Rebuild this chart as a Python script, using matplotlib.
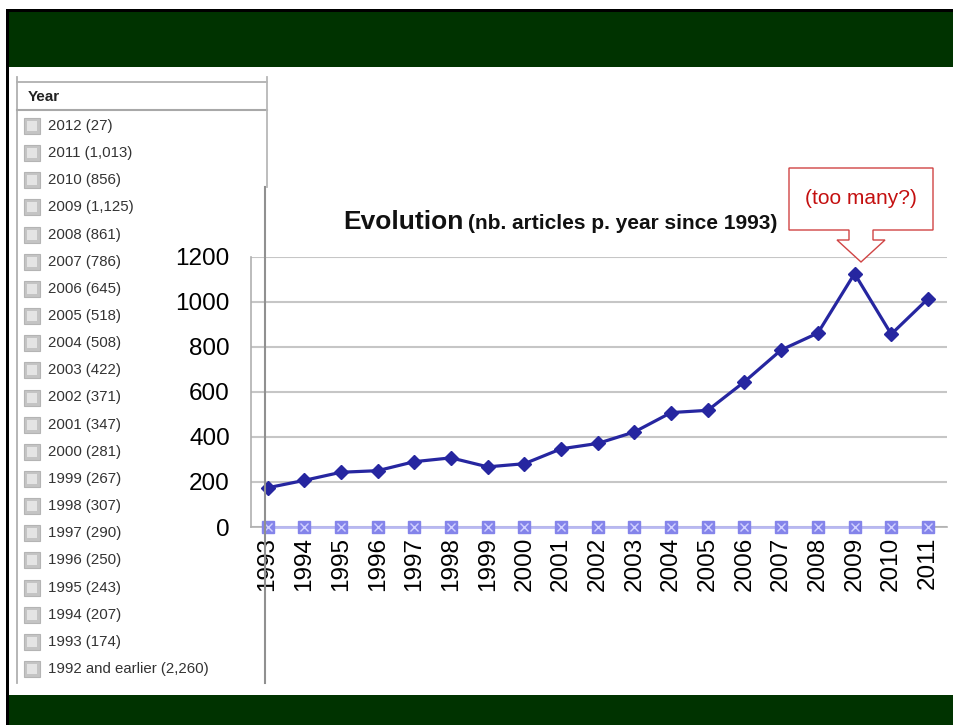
import matplotlib.pyplot as plt
from matplotlib.patches import Rectangle, Polygon
from matplotlib.lines import Line2D

plt.rcParams['font.family'] = ['Liberation Sans', 'DejaVu Sans']

# chart data
years = ['1993', '1994', '1995', '1996', '1997', '1998', '1999', '2000', '2001', '2002',
         '2003', '2004', '2005', '2006', '2007', '2008', '2009', '2010', '2011']
articles = [174, 207, 243, 250, 290, 307, 267, 281, 347, 371,
            422, 508, 518, 645, 786, 861, 1125, 856, 1013]
baseline = [0, 0, 0, 0, 0, 0, 0, 0, 0, 0, 0, 0, 0, 0, 0, 0, 0, 0, 0]
yticks = [0, 200, 400, 600, 800, 1000, 1200]

# facet list on the left
facet_years = ['2012', '2011', '2010', '2009', '2008', '2007', '2006', '2005', '2004', '2003',
               '2002', '2001', '2000', '1999', '1998', '1997', '1996', '1995', '1994', '1993',
               '1992 and earlier']
facet_counts = ['27', '1,013', '856', '1,125', '861', '786', '645', '518', '508', '422',
                '371', '347', '281', '267', '307', '290', '250', '243', '207', '174',
                '2,260']

W, H = 954, 725


def fx(x):
    return x / W


def fy(y):
    return 1 - y / H


def rect(x0, y0, x1, y1, **kw):
    # pixel box (top-left origin) -> figure rectangle
    return Rectangle((fx(x0), fy(y1)), (x1 - x0) / W, (y1 - y0) / H,
                     transform=fig.transFigure, **kw)


def hline(y, x0, x1, **kw):
    fig.add_artist(Line2D([fx(x0), fx(x1)], [fy(y), fy(y)], transform=fig.transFigure, **kw))


def vline(x, y0, y1, **kw):
    fig.add_artist(Line2D([fx(x), fx(x)], [fy(y0), fy(y1)], transform=fig.transFigure, **kw))


fig = plt.figure(figsize=(9.54, 7.25), dpi=100)
fig.patch.set_facecolor('white')

# slide frame
green = '#003300'
fig.add_artist(rect(6, 9, 954, 12, color='black', lw=0))
fig.add_artist(rect(6, 9, 9, 725, color='black', lw=0))
fig.add_artist(rect(9, 12, 954, 67, color=green, lw=0))
fig.add_artist(rect(9, 695, 954, 725, color=green, lw=0))

# facet panel
vline(17, 77, 683, color='#b0b0b0', lw=1.3)
hline(82, 17, 267, color='#b0b0b0', lw=1.3)
hline(110, 17, 267, color='#a8a8a8', lw=1.5)
vline(267, 77, 187, color='#b8b8b8', lw=1.3)
vline(265, 187, 683, color='#909090', lw=1.5)
fig.text(fx(28), fy(97), 'Year', fontsize=11, weight='bold', color='#222222', va='center')

for i in range(len(facet_years)):
    cy = 126 + i * 27.15
    fig.add_artist(rect(24, cy - 8, 40, cy + 8, facecolor='#c4c4c4', edgecolor='#b4b4b4', lw=0.8))
    fig.add_artist(rect(27, cy - 5, 37, cy + 5, facecolor='#e4e4e4', lw=0))
    fig.text(fx(48), fy(cy), facet_years[i] + ' (' + facet_counts[i] + ')',
             fontsize=10.8, color='#333333', va='center')

# chart
ax = fig.add_axes([fx(250.7), fy(527), (947 - 250.7) / W, (527 - 256.7) / H])
ax.set_facecolor('none')
x = list(range(len(years)))

ax.plot(x, baseline, color='#b8b8f2', lw=2, zorder=3, clip_on=False)
ax.plot(x, baseline, ls='none', marker='s', ms=8, mfc='#8484ea', mec='#8484ea', zorder=4, clip_on=False)
ax.plot(x, baseline, ls='none', marker='x', ms=6, mew=1, color='#d2d2ff', zorder=5, clip_on=False)
ax.plot(x, articles, color='#2626a0', lw=2.3, marker='D', ms=7, zorder=6, clip_on=False)

ax.set_xlim(-0.46, 18.52)
ax.set_ylim(0, 1200)
ax.set_yticks(yticks)
ax.set_xticks(x)
ax.set_xticklabels(years, rotation=90, fontsize=17.5)
ax.set_yticklabels([str(v) for v in yticks], fontsize=17.5)
ax.tick_params(length=0)
ax.tick_params(axis='y', pad=15)
ax.tick_params(axis='x', pad=7)
ax.yaxis.grid(True, color='#c6c6c6', lw=1.5)
ax.set_axisbelow(True)
for s in ['top', 'right']:
    ax.spines[s].set_visible(False)
ax.spines['left'].set_color('#b0b0b0')
ax.spines['bottom'].set_color('#b0b0b0')
ax.spines['left'].set_linewidth(1.2)
ax.spines['bottom'].set_linewidth(1.2)

# title
fig.text(fx(343), fy(229), 'Evolution', fontsize=19, weight='bold', color='#111111', va='baseline')
fig.text(fx(468), fy(229), '(nb. articles p. year since 1993)', fontsize=15, weight='bold',
         color='#111111', va='baseline')

# callout
pts = [(789, 168), (933, 168), (933, 230), (873, 230), (873, 240), (885, 240), (861, 262),
       (837, 240), (849, 240), (849, 230), (789, 230)]
fig.add_artist(Polygon([(fx(a), fy(b)) for a, b in pts], closed=True, transform=fig.transFigure,
                       facecolor='white', edgecolor='#d04444', lw=1, zorder=10))
fig.text(fx(861), fy(199), '(too many?)', fontsize=15, color='#c41010', ha='center', va='center',
         zorder=11)

fig.savefig('out.png', dpi=100)
